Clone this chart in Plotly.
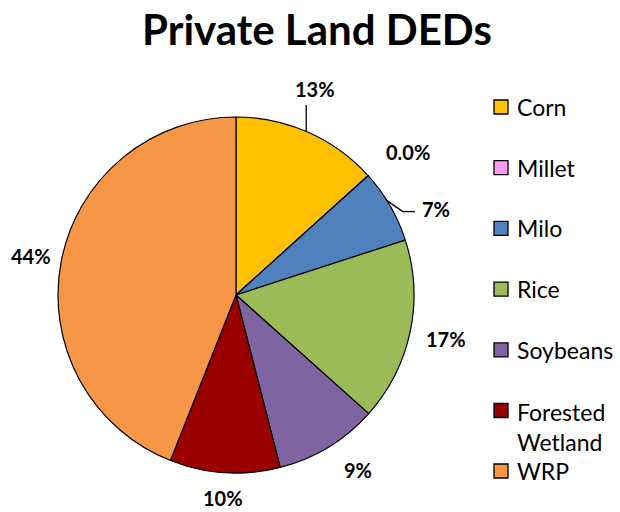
import math
import plotly.graph_objects as go

# Share of private-land DEDs by land use
categories = ["Corn", "Millet", "Milo", "Rice", "Soybeans", "Forested<br>Wetland", "WRP"]
shares = [13.3, 0.01, 6.7, 16.6, 9.4, 10.0, 44.0]
colors = ["#FFC000", "#FF99F5", "#4F81BD", "#9BBB59", "#8064A2", "#9A0000", "#F79646"]
label_formats = ["{:.0%}", "{:.1%}", "{:.0%}", "{:.0%}", "{:.0%}", "{:.0%}", "{:.0%}"]

W, H = 620, 512
CX, CY, R = 236, 295, 178          # pie centre and radius in pixels
FONT = "Lato, 'Open Sans', sans-serif"


def px(x, y):
    """pixel position -> paper coordinates"""
    return x / W, 1 - y / H


fig = go.Figure()
fig.add_trace(go.Pie(
    labels=categories,
    values=shares,
    sort=False,
    direction="clockwise",
    rotation=0,
    marker=dict(colors=colors, line=dict(color="#000000", width=1.2)),
    textinfo="none",
    hoverinfo="label+percent",
    showlegend=False,
    domain=dict(x=[(CX - R) / W, (CX + R) / W], y=[(H - CY - R) / H, (H - CY + R) / H]),
))

# data labels placed around the rim at each slice's mid-angle
total = sum(shares)
label_r = 215
radius_nudge = {0: 6, 1: 9, 2: 3, 4: -2, 5: -12, 6: -6}
angle_nudge = {0: -3.0, 1: 2.4, 2: 6.8, 4: -3.5}
cum = 0.0
mid_angles = []
for i, v in enumerate(shares):
    mid = (cum + v / 2) / total * 360
    mid_angles.append(mid)
    cum += v
    a = math.radians(mid + angle_nudge.get(i, 0.0))
    r = label_r + radius_nudge.get(i, 0)
    lx = CX + r * math.sin(a)
    ly = CY - r * math.cos(a)
    ax, ay = px(lx, ly)
    fig.add_annotation(
        x=ax, y=ay, xref="paper", yref="paper", showarrow=False,
        text=label_formats[i].format(v / total),
        font=dict(family=FONT, size=20, color="#000000", weight="bold"),
        xanchor="center", yanchor="middle",
    )

# leader lines for the Corn and Milo labels
a0 = math.radians(mid_angles[0] - 0.7)
ex, ey = CX + R * math.sin(a0), CY - R * math.cos(a0)
x0, y0 = px(ex, ey)
x1, y1 = px(ex, 105)
fig.add_shape(type="line", xref="paper", yref="paper", x0=x0, y0=y0, x1=x1, y1=y1,
              line=dict(color="#000000", width=1.3))

a2 = math.radians(mid_angles[2] - 2)
ex, ey = CX + R * math.sin(a2), CY - R * math.cos(a2)
pts = [(ex, ey), (ex + 16, ey + 11), (ex + 28, ey + 11)]
for (p, q) in zip(pts[:-1], pts[1:]):
    x0, y0 = px(*p)
    x1, y1 = px(*q)
    fig.add_shape(type="line", xref="paper", yref="paper", x0=x0, y0=y0, x1=x1, y1=y1,
                  line=dict(color="#000000", width=1.3))

# legend drawn as swatches and text
leg_x, leg_y0, leg_step, sw = 494, 107, 60.7, 14
for i, (name, col) in enumerate(zip(categories, colors)):
    y = leg_y0 + i * leg_step
    if i == len(categories) - 1:
        y = 471
    sx0, sy0 = px(leg_x, y - sw / 2)
    sx1, sy1 = px(leg_x + sw, y + sw / 2)
    fig.add_shape(type="rect", xref="paper", yref="paper", x0=sx0, y0=sy0, x1=sx1, y1=sy1,
                  fillcolor=col, line=dict(color="#000000", width=1.3))
    tx, ty = px(leg_x + 21, y)
    fig.add_annotation(
        x=tx, y=ty, xref="paper", yref="paper", showarrow=False,
        text=name, align="left", xanchor="left",
        yanchor="top" if "<br>" in name else "middle",
        yshift=15 if "<br>" in name else 0,
        font=dict(family=FONT, size=23, color="#000000"),
    )

fig.update_layout(
    width=W, height=H,
    margin=dict(l=0, r=0, t=0, b=0),
    paper_bgcolor="#FFFFFF",
    plot_bgcolor="#FFFFFF",
    title=dict(
        text="Private Land DEDs",
        x=317 / W, xanchor="center", y=1 - 30 / H, yanchor="middle",
        font=dict(family=FONT, size=42, color="#000000", weight="bold"),
    ),
)

fig.write_html("out.html")
